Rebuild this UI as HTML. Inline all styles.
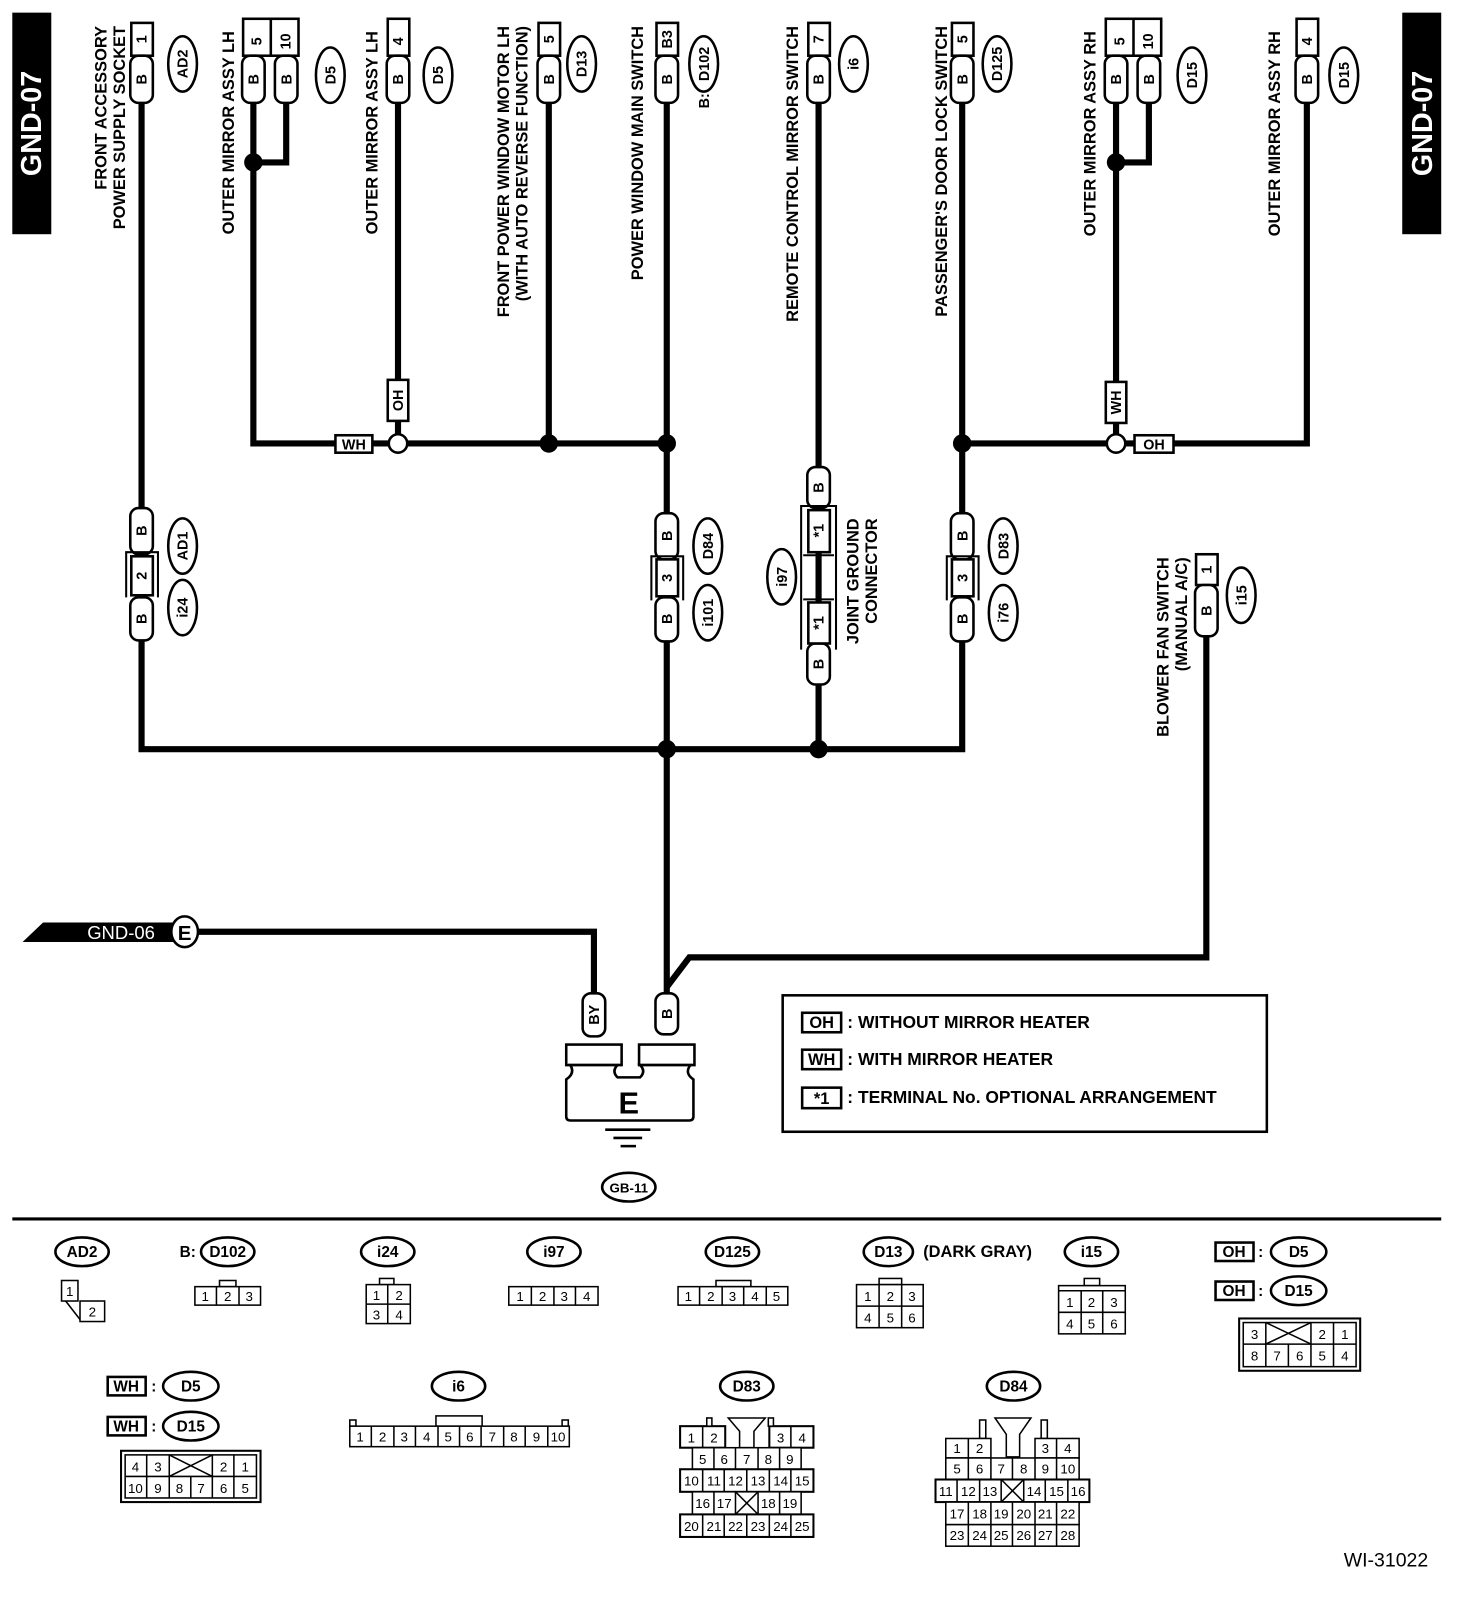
<!DOCTYPE html>
<html><head><meta charset="utf-8"><style>
html,body{margin:0;padding:0;background:#fff}
svg{display:block}
text{font-family:"Liberation Sans",sans-serif;fill:#000}
.b{font-weight:bold;font-size:14px}
.L{font-weight:bold;font-size:16px}
.s{font-size:13px}
.w{fill:none;stroke:#000;stroke-width:6}
.o{fill:#fff;stroke:#000;stroke-width:2.5}
.g{fill:#fff;stroke:#000;stroke-width:1.5}
</style></head><body>
<svg width="1472" height="1606" viewBox="0 0 1435 1565" xmlns="http://www.w3.org/2000/svg">
<rect x="12" y="12" width="38" height="216" fill="#000"/>
<text transform="translate(40,120) rotate(-90)" text-anchor="middle" font-size="28" font-weight="bold" style="fill:#fff">GND-07</text>
<rect x="1367" y="12" width="38" height="216" fill="#000"/>
<text transform="translate(1396,120) rotate(-90)" text-anchor="middle" font-size="28" font-weight="bold" style="fill:#fff">GND-07</text>

<path class="w" d="M138 100V730H938V625"/>
<path class="w" d="M247 100V432H650"/>
<path class="w" d="M279 100V158H247"/>
<path class="w" d="M388 100V432"/>
<path class="w" d="M535 100V432"/>
<path class="w" d="M650 100V968"/>
<path class="w" d="M798 100V730"/>
<path class="w" d="M938 100V500"/>
<path class="w" d="M938 432H1274V100"/>
<path class="w" d="M1088 100V432"/>
<path class="w" d="M1120 100V158H1088"/>
<path class="w" d="M1176 620V933H672L650 962"/>
<path class="w" d="M193 908H579V968"/>

<g fill="#000">
<circle cx="247" cy="158" r="9"/><circle cx="1088" cy="158" r="9"/>
<circle cx="535" cy="432" r="9"/><circle cx="650" cy="432" r="9"/><circle cx="938" cy="432" r="9"/>
<circle cx="650" cy="730" r="9"/><circle cx="798" cy="730" r="9"/>
</g>
<circle cx="388" cy="432" r="9" class="o"/>
<circle cx="1088" cy="432" r="9" class="o"/>

<rect x="327" y="424" width="36" height="17" class="o"/><text x="345" y="438" text-anchor="middle" class="b">WH</text>
<rect x="378" y="370" width="20" height="40" class="o"/><text transform="translate(393,390) rotate(-90)" text-anchor="middle" class="b">OH</text>
<rect x="1078" y="372" width="20" height="40" class="o"/><text transform="translate(1093,392) rotate(-90)" text-anchor="middle" class="b">WH</text>
<rect x="1106" y="424" width="38" height="17" class="o"/><text x="1125" y="438" text-anchor="middle" class="b">OH</text>

<g class="o">
<rect x="128" y="22" width="21" height="32"/>
<rect x="237" y="18" width="54" height="36"/>
<rect x="378" y="18" width="21" height="36"/>
<rect x="525" y="22" width="21" height="32"/>
<rect x="640" y="22" width="21" height="32"/>
<rect x="788" y="22" width="21" height="32"/>
<rect x="928" y="22" width="21" height="32"/>
<rect x="1078" y="18" width="54" height="36"/>
<rect x="1264" y="18" width="21" height="36"/>
<rect x="1166" y="540" width="21" height="30"/>
</g>
<line x1="264" y1="18" x2="264" y2="54" stroke="#000" stroke-width="2.5"/>
<line x1="1105" y1="18" x2="1105" y2="54" stroke="#000" stroke-width="2.5"/>
<g class="b" text-anchor="middle">
<text transform="translate(143,38) rotate(-90)">1</text>
<text transform="translate(255,40) rotate(-90)">5</text>
<text transform="translate(283,40) rotate(-90)">10</text>
<text transform="translate(393,40) rotate(-90)">4</text>
<text transform="translate(540,38) rotate(-90)">5</text>
<text transform="translate(655,38) rotate(-90)">B3</text>
<text transform="translate(803,38) rotate(-90)">7</text>
<text transform="translate(943,38) rotate(-90)">5</text>
<text transform="translate(1096,40) rotate(-90)">5</text>
<text transform="translate(1124,40) rotate(-90)">10</text>
<text transform="translate(1279,40) rotate(-90)">4</text>
<text transform="translate(1181,555) rotate(-90)">1</text>
</g>
<g class="o">
<rect x="127" y="54" width="22" height="46" rx="8"/>
<rect x="236" y="54" width="22" height="46" rx="8"/>
<rect x="268" y="54" width="22" height="46" rx="8"/>
<rect x="377" y="54" width="22" height="46" rx="8"/>
<rect x="524" y="54" width="22" height="46" rx="8"/>
<rect x="639" y="54" width="22" height="46" rx="8"/>
<rect x="787" y="54" width="22" height="46" rx="8"/>
<rect x="927" y="54" width="22" height="46" rx="8"/>
<rect x="1077" y="54" width="22" height="46" rx="8"/>
<rect x="1109" y="54" width="22" height="46" rx="8"/>
<rect x="1263" y="54" width="22" height="46" rx="8"/>
<rect x="1165" y="570" width="22" height="50" rx="8"/>
<rect x="127" y="495" width="22" height="45" rx="8"/>
<rect x="127" y="582" width="22" height="42" rx="8"/>
<rect x="639" y="500" width="22" height="45" rx="8"/>
<rect x="639" y="582" width="22" height="43" rx="8"/>
<rect x="927" y="500" width="22" height="45" rx="8"/>
<rect x="927" y="582" width="22" height="43" rx="8"/>
<rect x="787" y="455" width="22" height="40" rx="8"/>
<rect x="787" y="627" width="22" height="40" rx="8"/>
<rect x="568" y="968" width="22" height="42" rx="8"/>
<rect x="639" y="968" width="22" height="40" rx="8"/>
</g>
<g class="b" text-anchor="middle">
<text transform="translate(143,77) rotate(-90)">B</text>
<text transform="translate(252,77) rotate(-90)">B</text>
<text transform="translate(284,77) rotate(-90)">B</text>
<text transform="translate(393,77) rotate(-90)">B</text>
<text transform="translate(540,77) rotate(-90)">B</text>
<text transform="translate(655,77) rotate(-90)">B</text>
<text transform="translate(803,77) rotate(-90)">B</text>
<text transform="translate(943,77) rotate(-90)">B</text>
<text transform="translate(1093,77) rotate(-90)">B</text>
<text transform="translate(1125,77) rotate(-90)">B</text>
<text transform="translate(1279,77) rotate(-90)">B</text>
<text transform="translate(1181,595) rotate(-90)">B</text>
<text transform="translate(143,517) rotate(-90)">B</text>
<text transform="translate(143,603) rotate(-90)">B</text>
<text transform="translate(655,522) rotate(-90)">B</text>
<text transform="translate(655,603) rotate(-90)">B</text>
<text transform="translate(943,522) rotate(-90)">B</text>
<text transform="translate(943,603) rotate(-90)">B</text>
<text transform="translate(803,475) rotate(-90)">B</text>
<text transform="translate(803,647) rotate(-90)">B</text>
<text transform="translate(584,989) rotate(-90)">BY</text>
<text transform="translate(655,988) rotate(-90)">B</text>
</g>
<g fill="none" stroke="#000" stroke-width="2">
<path d="M123 582V538H154V582"/><path d="M635 585V542H666V585"/><path d="M923 585V542H954V585"/>
<path d="M781 633V493H815V633"/>
<line x1="783" y1="541" x2="813" y2="541"/><line x1="783" y1="584" x2="813" y2="584"/><line x1="798" y1="541" x2="798" y2="584" stroke-width="3"/>
</g>
<g class="o">
<rect x="128" y="542" width="21" height="38"/>
<rect x="640" y="545" width="21" height="36"/>
<rect x="928" y="545" width="21" height="36"/>
<rect x="788" y="497" width="21" height="41"/>
<rect x="788" y="587" width="21" height="40"/>
</g>
<g class="b" text-anchor="middle">
<text transform="translate(143,561) rotate(-90)">2</text>
<text transform="translate(655,563) rotate(-90)">3</text>
<text transform="translate(943,563) rotate(-90)">3</text>
<text transform="translate(803,517) rotate(-90)">*1</text>
<text transform="translate(803,607) rotate(-90)">*1</text>
</g>

<g class="o" stroke-width="2.5">
<ellipse cx="178" cy="62" rx="14" ry="27"/><ellipse cx="322" cy="73" rx="14" ry="27"/><ellipse cx="427" cy="73" rx="14" ry="27"/>
<ellipse cx="567" cy="62" rx="14" ry="27"/><ellipse cx="686" cy="62" rx="14" ry="27"/><ellipse cx="832" cy="62" rx="14" ry="27"/>
<ellipse cx="972" cy="62" rx="14" ry="27"/><ellipse cx="1162" cy="73" rx="14" ry="27"/><ellipse cx="1310" cy="73" rx="14" ry="27"/>
<ellipse cx="178" cy="532" rx="14" ry="27"/><ellipse cx="178" cy="592" rx="14" ry="27"/>
<ellipse cx="690" cy="532" rx="14" ry="27"/><ellipse cx="690" cy="597" rx="14" ry="27"/>
<ellipse cx="978" cy="532" rx="14" ry="27"/><ellipse cx="978" cy="597" rx="14" ry="27"/>
<ellipse cx="762" cy="562" rx="14" ry="27"/><ellipse cx="1210" cy="580" rx="14" ry="27"/>
</g>
<g class="b" text-anchor="middle">
<text transform="translate(183,62) rotate(-90)">AD2</text>
<text transform="translate(327,73) rotate(-90)">D5</text>
<text transform="translate(432,73) rotate(-90)">D5</text>
<text transform="translate(572,62) rotate(-90)">D13</text>
<text transform="translate(691,62) rotate(-90)">D102</text>
<text transform="translate(837,62) rotate(-90)">i6</text>
<text transform="translate(977,62) rotate(-90)">D125</text>
<text transform="translate(1167,73) rotate(-90)">D15</text>
<text transform="translate(1315,73) rotate(-90)">D15</text>
<text transform="translate(183,532) rotate(-90)">AD1</text>
<text transform="translate(183,592) rotate(-90)">i24</text>
<text transform="translate(695,532) rotate(-90)">D84</text>
<text transform="translate(695,597) rotate(-90)">i101</text>
<text transform="translate(983,532) rotate(-90)">D83</text>
<text transform="translate(983,597) rotate(-90)">i76</text>
<text transform="translate(767,562) rotate(-90)">i97</text>
<text transform="translate(1215,580) rotate(-90)">i15</text>
<text transform="translate(691,98) rotate(-90)">B:</text>
</g>

<g class="L" text-anchor="end">
<text transform="translate(104,25) rotate(-90)">FRONT ACCESSORY</text>
<text transform="translate(122,25) rotate(-90)">POWER SUPPLY SOCKET</text>
<text transform="translate(228,30) rotate(-90)">OUTER MIRROR ASSY LH</text>
<text transform="translate(368,30) rotate(-90)">OUTER MIRROR ASSY LH</text>
<text transform="translate(496,25) rotate(-90)">FRONT POWER WINDOW MOTOR LH</text>
<text transform="translate(514,25) rotate(-90)">(WITH AUTO REVERSE FUNCTION)</text>
<text transform="translate(627,25) rotate(-90)">POWER WINDOW MAIN SWITCH</text>
<text transform="translate(778,25) rotate(-90)">REMOTE CONTROL MIRROR SWITCH</text>
<text transform="translate(923,25) rotate(-90)">PASSENGER'S DOOR LOCK SWITCH</text>
<text transform="translate(1068,30) rotate(-90)">OUTER MIRROR ASSY RH</text>
<text transform="translate(1248,30) rotate(-90)">OUTER MIRROR ASSY RH</text>
<text transform="translate(1139,543) rotate(-90)">BLOWER FAN SWITCH</text>
<text transform="translate(1157,543) rotate(-90)">(MANUAL A/C)</text>
<text transform="translate(837,505) rotate(-90)">JOINT GROUND</text>
<text transform="translate(855,505) rotate(-90)">CONNECTOR</text>
</g>

<polygon points="22,918 42,899 172,899 172,918" fill="#000"/>
<text x="85" y="915" font-size="18" style="fill:#fff">GND-06</text>
<ellipse cx="180" cy="908" rx="13" ry="15" class="o"/>
<text x="180" y="916" text-anchor="middle" font-weight="bold" font-size="20">E</text>

<g class="o" stroke-width="2">
<rect x="552" y="1018" width="54" height="20"/>
<rect x="623" y="1018" width="54" height="20"/>
<path d="M556 1038H602Q596 1044 602 1050H624Q630 1044 624 1038H673Q667 1046 676 1052V1088Q676 1092 672 1092H556Q552 1092 552 1088V1052Q561 1046 556 1038Z"/>
</g>
<text x="613" y="1085" text-anchor="middle" font-weight="bold" font-size="30">E</text>
<g stroke="#000" stroke-width="2.5"><line x1="590" y1="1101" x2="634" y2="1101"/><line x1="598" y1="1109" x2="626" y2="1109"/><line x1="605" y1="1117" x2="620" y2="1117"/></g>
<ellipse cx="613" cy="1157" rx="26" ry="14" class="o"/>
<text x="613" y="1162" text-anchor="middle" class="b" style="font-size:13px">GB-11</text>

<rect x="763" y="970" width="472" height="133" fill="none" stroke="#000" stroke-width="2.5"/>
<g class="o" stroke-width="3"><rect x="782" y="987" width="38" height="19"/><rect x="782" y="1023" width="38" height="19"/><rect x="782" y="1060" width="38" height="20"/></g>
<g class="b" style="font-size:16px">
<text x="801" y="1002" text-anchor="middle">OH</text><text x="801" y="1038" text-anchor="middle">WH</text><text x="801" y="1076" text-anchor="middle">*1</text>
</g>
<g class="b" style="font-size:17px">
<text x="826" y="1002">: WITHOUT MIRROR HEATER</text>
<text x="826" y="1038">: WITH MIRROR HEATER</text>
<text x="826" y="1075">: TERMINAL No. OPTIONAL ARRANGEMENT</text>
</g>

<line x1="12" y1="1188" x2="1405" y2="1188" stroke="#000" stroke-width="3"/>

<g class="o" stroke-width="2.5">
<ellipse cx="80" cy="1220" rx="26" ry="14"/><ellipse cx="222" cy="1220" rx="26" ry="14"/><ellipse cx="378" cy="1220" rx="26" ry="14"/>
<ellipse cx="540" cy="1220" rx="26" ry="14"/><ellipse cx="714" cy="1220" rx="26" ry="14"/><ellipse cx="866" cy="1220" rx="24" ry="14"/>
<ellipse cx="1064" cy="1220" rx="26" ry="14"/><ellipse cx="1266" cy="1220" rx="27" ry="14"/><ellipse cx="1266" cy="1258" rx="27" ry="14"/>
<ellipse cx="186" cy="1351" rx="27" ry="14"/><ellipse cx="186" cy="1390" rx="27" ry="14"/>
<ellipse cx="447" cy="1351" rx="26" ry="14"/><ellipse cx="728" cy="1351" rx="26" ry="14"/><ellipse cx="988" cy="1351" rx="26" ry="14"/>
<rect x="1185" y="1211" width="37" height="18"/><rect x="1185" y="1249" width="37" height="18"/>
<rect x="105" y="1342" width="37" height="18"/><rect x="105" y="1381" width="37" height="18"/>
</g>
<g class="b" style="font-size:15px" text-anchor="middle">
<text x="80" y="1225">AD2</text><text x="222" y="1225">D102</text><text x="378" y="1225">i24</text><text x="540" y="1225">i97</text>
<text x="714" y="1225">D125</text><text x="866" y="1225">D13</text><text x="1064" y="1225">i15</text>
<text x="1266" y="1225">D5</text><text x="1266" y="1263">D15</text><text x="186" y="1356">D5</text><text x="186" y="1395">D15</text>
<text x="447" y="1356">i6</text><text x="728" y="1356">D83</text><text x="988" y="1356">D84</text>
<text x="1203" y="1225">OH</text><text x="1203" y="1263">OH</text><text x="123" y="1356">WH</text><text x="123" y="1395">WH</text>
<text x="1229" y="1225">:</text><text x="1229" y="1263">:</text><text x="150" y="1356">:</text><text x="150" y="1395">:</text>
<text x="183" y="1225">B:</text>
</g>
<text x="900" y="1225" class="b" style="font-size:16px">(DARK GRAY)</text>

<g class="g">
<rect x="60" y="1248" width="16" height="20"/><rect x="78" y="1268" width="24" height="20"/><line x1="64" y1="1268" x2="78" y2="1286"/>
<rect x="214" y="1248" width="16" height="6"/><rect x="190" y="1254" width="64" height="18"/><line x1="211" y1="1254" x2="211" y2="1272"/><line x1="233" y1="1254" x2="233" y2="1272"/>
<rect x="370" y="1246" width="14" height="6"/><rect x="357" y="1252" width="43" height="38"/><line x1="357" y1="1271" x2="400" y2="1271"/><line x1="378" y1="1252" x2="378" y2="1290"/>
<rect x="496" y="1254" width="87" height="18"/><line x1="518" y1="1254" x2="518" y2="1272"/><line x1="540" y1="1254" x2="540" y2="1272"/><line x1="561" y1="1254" x2="561" y2="1272"/>
<rect x="698" y="1248" width="34" height="6"/><rect x="661" y="1254" width="107" height="18"/><line x1="682" y1="1254" x2="682" y2="1272"/><line x1="704" y1="1254" x2="704" y2="1272"/><line x1="725" y1="1254" x2="725" y2="1272"/><line x1="747" y1="1254" x2="747" y2="1272"/>
<rect x="857" y="1246" width="22" height="6"/><rect x="835" y="1252" width="65" height="42"/><line x1="835" y1="1273" x2="900" y2="1273"/><line x1="857" y1="1252" x2="857" y2="1294"/><line x1="879" y1="1252" x2="879" y2="1294"/>
<rect x="1057" y="1246" width="15" height="7"/><rect x="1032" y="1253" width="65" height="47"/><line x1="1032" y1="1258" x2="1097" y2="1258"/><line x1="1032" y1="1279" x2="1097" y2="1279"/><line x1="1054" y1="1258" x2="1054" y2="1300"/><line x1="1075" y1="1258" x2="1075" y2="1300"/>
<rect x="1208" y="1285" width="118" height="51" stroke-width="2"/><rect x="1212" y="1289" width="110" height="43"/><line x1="1212" y1="1310" x2="1322" y2="1310"/>
<line x1="1234" y1="1289" x2="1234" y2="1332"/><line x1="1278" y1="1289" x2="1278" y2="1310"/><line x1="1300" y1="1289" x2="1300" y2="1332"/><line x1="1256" y1="1310" x2="1256" y2="1332"/><line x1="1278" y1="1310" x2="1278" y2="1332"/>
<line x1="1234" y1="1289" x2="1278" y2="1310"/><line x1="1234" y1="1310" x2="1278" y2="1289"/>
<rect x="118" y="1414" width="136" height="50" stroke-width="2"/><rect x="122" y="1418" width="128" height="42"/><line x1="122" y1="1439" x2="250" y2="1439"/>
<line x1="143" y1="1418" x2="143" y2="1460"/><line x1="165" y1="1418" x2="165" y2="1460"/><line x1="186" y1="1439" x2="186" y2="1460"/><line x1="207" y1="1418" x2="207" y2="1460"/><line x1="228" y1="1418" x2="228" y2="1460"/>
<line x1="165" y1="1418" x2="207" y2="1439"/><line x1="165" y1="1439" x2="207" y2="1418"/>
<rect x="341" y="1384" width="6" height="6"/><rect x="548" y="1384" width="6" height="6"/><rect x="425" y="1380" width="45" height="10"/>
<rect x="341" y="1390" width="214" height="20"/>
<line x1="362" y1="1390" x2="362" y2="1410"/><line x1="384" y1="1390" x2="384" y2="1410"/><line x1="405" y1="1390" x2="405" y2="1410"/><line x1="427" y1="1390" x2="427" y2="1410"/><line x1="448" y1="1390" x2="448" y2="1410"/><line x1="469" y1="1390" x2="469" y2="1410"/><line x1="491" y1="1390" x2="491" y2="1410"/><line x1="512" y1="1390" x2="512" y2="1410"/><line x1="534" y1="1390" x2="534" y2="1410"/>
<rect x="663" y="1390" width="44" height="21" stroke-width="2"/><line x1="685" y1="1390" x2="685" y2="1411"/>
<rect x="750" y="1390" width="43" height="21" stroke-width="2"/><line x1="771" y1="1390" x2="771" y2="1411"/>
<rect x="689" y="1382" width="5" height="8"/><rect x="749" y="1382" width="5" height="8"/>
<path d="M710 1382H746L735 1395V1411H721V1395Z"/>
<rect x="675" y="1411" width="106" height="21"/><line x1="696" y1="1411" x2="696" y2="1432"/><line x1="717" y1="1411" x2="717" y2="1432"/><line x1="739" y1="1411" x2="739" y2="1432"/><line x1="760" y1="1411" x2="760" y2="1432"/>
<rect x="663" y="1432" width="130" height="22" stroke-width="2"/><line x1="685" y1="1432" x2="685" y2="1454"/><line x1="706" y1="1432" x2="706" y2="1454"/><line x1="728" y1="1432" x2="728" y2="1454"/><line x1="750" y1="1432" x2="750" y2="1454"/><line x1="771" y1="1432" x2="771" y2="1454"/>
<rect x="675" y="1454" width="106" height="22"/><line x1="696" y1="1454" x2="696" y2="1476"/><line x1="717" y1="1454" x2="717" y2="1476"/><line x1="739" y1="1454" x2="739" y2="1476"/><line x1="760" y1="1454" x2="760" y2="1476"/>
<line x1="717" y1="1454" x2="739" y2="1476"/><line x1="717" y1="1476" x2="739" y2="1454"/>
<rect x="663" y="1476" width="130" height="22" stroke-width="2"/><line x1="685" y1="1476" x2="685" y2="1498"/><line x1="706" y1="1476" x2="706" y2="1498"/><line x1="728" y1="1476" x2="728" y2="1498"/><line x1="750" y1="1476" x2="750" y2="1498"/><line x1="771" y1="1476" x2="771" y2="1498"/>
<rect x="955" y="1384" width="6" height="18"/><rect x="1015" y="1384" width="6" height="18"/>
<path d="M970 1382H1005L994 1398V1420H981V1398Z"/>
<rect x="922" y="1402" width="44" height="19"/><line x1="944" y1="1402" x2="944" y2="1421"/>
<rect x="1009" y="1402" width="43" height="19"/><line x1="1030" y1="1402" x2="1030" y2="1421"/>
<rect x="922" y="1421" width="130" height="21"/><line x1="944" y1="1421" x2="944" y2="1442"/><line x1="966" y1="1421" x2="966" y2="1442"/><line x1="987" y1="1421" x2="987" y2="1442"/><line x1="1009" y1="1421" x2="1009" y2="1442"/><line x1="1030" y1="1421" x2="1030" y2="1442"/>
<rect x="912" y="1442" width="150" height="22" stroke-width="2"/><line x1="933" y1="1442" x2="933" y2="1464"/><line x1="955" y1="1442" x2="955" y2="1464"/><line x1="976" y1="1442" x2="976" y2="1464"/><line x1="998" y1="1442" x2="998" y2="1464"/><line x1="1019" y1="1442" x2="1019" y2="1464"/><line x1="1041" y1="1442" x2="1041" y2="1464"/>
<line x1="976" y1="1442" x2="998" y2="1464"/><line x1="976" y1="1464" x2="998" y2="1442"/>
<rect x="922" y="1464" width="130" height="22"/><line x1="944" y1="1464" x2="944" y2="1486"/><line x1="966" y1="1464" x2="966" y2="1486"/><line x1="987" y1="1464" x2="987" y2="1486"/><line x1="1009" y1="1464" x2="1009" y2="1486"/><line x1="1030" y1="1464" x2="1030" y2="1486"/>
<rect x="922" y="1486" width="130" height="21"/><line x1="944" y1="1486" x2="944" y2="1507"/><line x1="966" y1="1486" x2="966" y2="1507"/><line x1="987" y1="1486" x2="987" y2="1507"/><line x1="1009" y1="1486" x2="1009" y2="1507"/><line x1="1030" y1="1486" x2="1030" y2="1507"/>
</g>
<g class="s" text-anchor="middle">
<text x="68" y="1263">1</text><text x="90" y="1283">2</text>
<text x="200" y="1268">1</text><text x="222" y="1268">2</text><text x="243" y="1268">3</text>
<text x="367" y="1267">1</text><text x="389" y="1267">2</text><text x="367" y="1286">3</text><text x="389" y="1286">4</text>
<text x="507" y="1268">1</text><text x="529" y="1268">2</text><text x="550" y="1268">3</text><text x="572" y="1268">4</text>
<text x="671" y="1268">1</text><text x="693" y="1268">2</text><text x="714" y="1268">3</text><text x="736" y="1268">4</text><text x="757" y="1268">5</text>
<text x="846" y="1268">1</text><text x="868" y="1268">2</text><text x="889" y="1268">3</text><text x="846" y="1289">4</text><text x="868" y="1289">5</text><text x="889" y="1289">6</text>
<text x="1043" y="1274">1</text><text x="1064" y="1274">2</text><text x="1086" y="1274">3</text><text x="1043" y="1295">4</text><text x="1064" y="1295">5</text><text x="1086" y="1295">6</text>
<text x="1223" y="1305">3</text><text x="1289" y="1305">2</text><text x="1311" y="1305">1</text>
<text x="1223" y="1326">8</text><text x="1245" y="1326">7</text><text x="1267" y="1326">6</text><text x="1289" y="1326">5</text><text x="1311" y="1326">4</text>
<text x="132" y="1434">4</text><text x="154" y="1434">3</text><text x="218" y="1434">2</text><text x="239" y="1434">1</text>
<text x="132" y="1455">10</text><text x="154" y="1455">9</text><text x="175" y="1455">8</text><text x="196" y="1455">7</text><text x="218" y="1455">6</text><text x="239" y="1455">5</text>
<text x="351" y="1405">1</text><text x="373" y="1405">2</text><text x="394" y="1405">3</text><text x="416" y="1405">4</text><text x="437" y="1405">5</text><text x="458" y="1405">6</text><text x="480" y="1405">7</text><text x="501" y="1405">8</text><text x="523" y="1405">9</text><text x="544" y="1405">10</text>
<text x="674" y="1406">1</text><text x="696" y="1406">2</text><text x="761" y="1406">3</text><text x="782" y="1406">4</text>
<text x="685" y="1427">5</text><text x="706" y="1427">6</text><text x="728" y="1427">7</text><text x="749" y="1427">8</text><text x="770" y="1427">9</text>
<text x="674" y="1448">10</text><text x="696" y="1448">11</text><text x="717" y="1448">12</text><text x="739" y="1448">13</text><text x="761" y="1448">14</text><text x="782" y="1448">15</text>
<text x="685" y="1470">16</text><text x="706" y="1470">17</text><text x="749" y="1470">18</text><text x="770" y="1470">19</text>
<text x="674" y="1492">20</text><text x="696" y="1492">21</text><text x="717" y="1492">22</text><text x="739" y="1492">23</text><text x="761" y="1492">24</text><text x="782" y="1492">25</text>
<text x="933" y="1416">1</text><text x="955" y="1416">2</text><text x="1019" y="1416">3</text><text x="1041" y="1416">4</text>
<text x="933" y="1436">5</text><text x="955" y="1436">6</text><text x="976" y="1436">7</text><text x="998" y="1436">8</text><text x="1019" y="1436">9</text><text x="1041" y="1436">10</text>
<text x="922" y="1458">11</text><text x="944" y="1458">12</text><text x="965" y="1458">13</text><text x="1008" y="1458">14</text><text x="1030" y="1458">15</text><text x="1051" y="1458">16</text>
<text x="933" y="1480">17</text><text x="955" y="1480">18</text><text x="976" y="1480">19</text><text x="998" y="1480">20</text><text x="1019" y="1480">21</text><text x="1041" y="1480">22</text>
<text x="933" y="1501">23</text><text x="955" y="1501">24</text><text x="976" y="1501">25</text><text x="998" y="1501">26</text><text x="1019" y="1501">27</text><text x="1041" y="1501">28</text>
</g>
<text x="1310" y="1527" font-size="19">WI-31022</text>
</svg>
</body></html>
